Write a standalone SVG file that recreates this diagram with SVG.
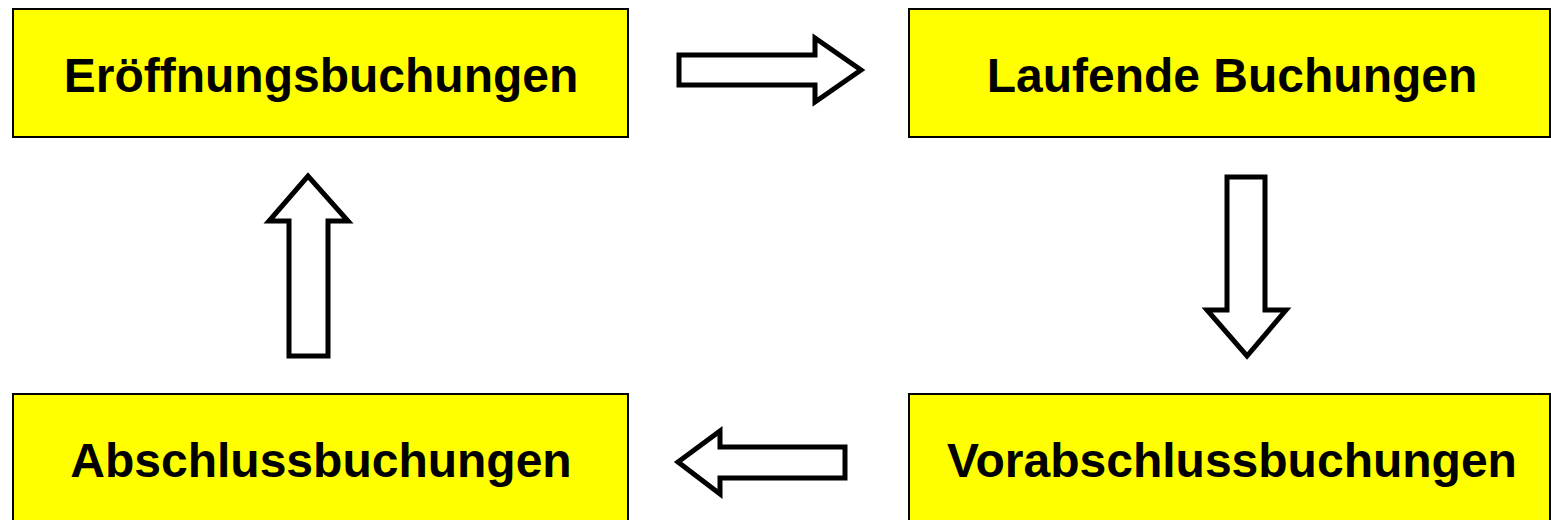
<svg xmlns="http://www.w3.org/2000/svg" width="1551" height="520" viewBox="0 0 1551 520">
<style>
.box{fill:#ffff00;stroke:#000;stroke-width:2}
.lbl{font-family:"Liberation Sans",Arial,sans-serif;font-weight:bold;font-size:48px;fill:#000;text-anchor:middle}
.arr{fill:#fff;stroke:#000;stroke-width:5;stroke-linejoin:miter}
</style>
<rect width="1551" height="520" fill="#fff"/>
<g id="eroeffnung">
<rect class="box" x="13" y="9" width="615" height="128"/>
<text class="lbl" x="321" y="92">Eröffnungsbuchungen</text>
</g>
<g id="laufende">
<rect class="box" x="909" y="9" width="641" height="128"/>
<text class="lbl" x="1232" y="92">Laufende Buchungen</text>
</g>
<g id="abschluss">
<rect class="box" x="13" y="394" width="615" height="140"/>
<text class="lbl" x="321" y="477">Abschlussbuchungen</text>
</g>
<g id="vorabschluss">
<rect class="box" x="909" y="394" width="641" height="140"/>
<text class="lbl" x="1232" y="477">Vorabschlussbuchungen</text>
</g>
<g id="connectors">
<path class="arr" d="M679,55 L815,55 L815,38 L861,70 L815,102 L815,85 L679,85 Z"/>
<path class="arr" d="M1227,177 L1265,177 L1265,310 L1286,310 L1247,356 L1207,310 L1227,310 Z"/>
<path class="arr" d="M845,447 L720,447 L720,431 L678,462 L720,494 L720,478 L845,478 Z"/>
<path class="arr" d="M289,356 L289,221 L269,221 L308,176 L348,221 L328,221 L328,356 Z"/>
</g>
</svg>
